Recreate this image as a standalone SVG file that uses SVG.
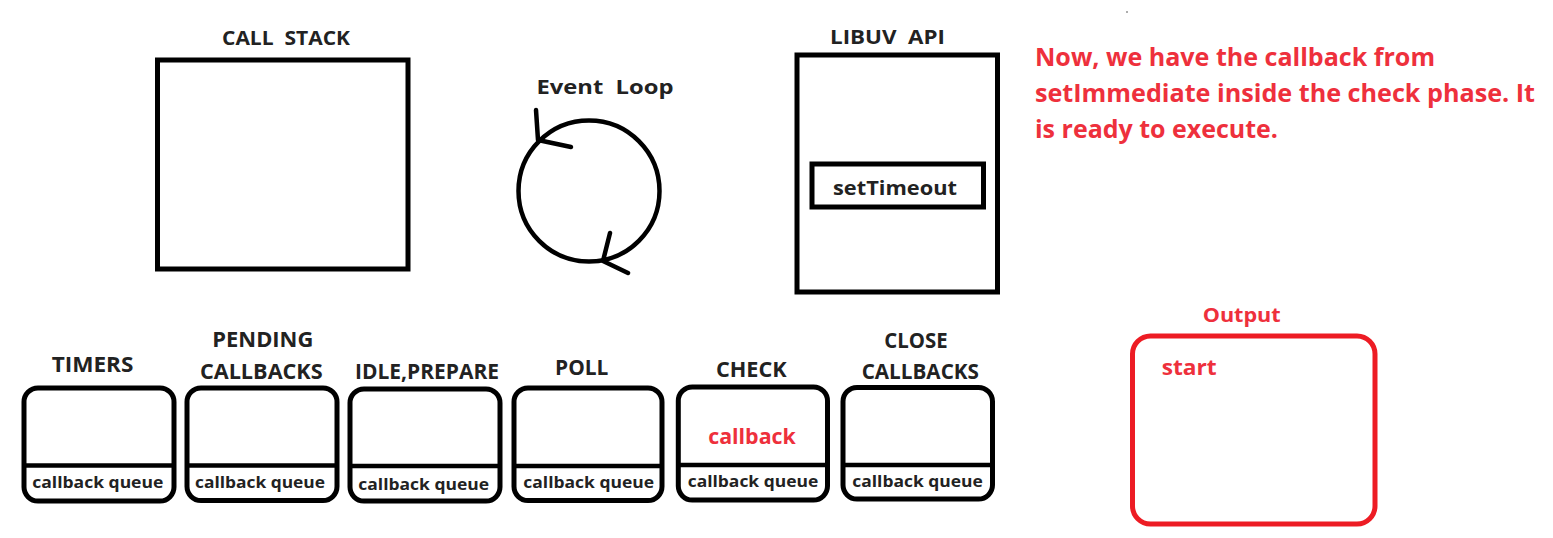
<svg xmlns="http://www.w3.org/2000/svg" width="1553" height="538" viewBox="0 0 1553 538">
<style>
.bg{fill:#ffffff}
.box{fill:none;stroke:#000;stroke-width:5}
.phase{fill:#fff;stroke:#000;stroke-width:5}
.div{stroke:#000;stroke-width:4.5}
.red{fill:none;stroke:#ED1C24;stroke-width:5}
.loop{fill:none;stroke:#000;stroke-width:4.5;stroke-linecap:round;stroke-linejoin:round}
text{font-family:"Open Sans","Noto Sans","Liberation Sans",sans-serif;font-weight:700;text-anchor:middle}
.lbl{fill:#222;font-size:19.5px}
.pre{white-space:pre}
.plbl{fill:#222;font-size:22px}
.cq{fill:#222;font-size:16.5px}
.rt{fill:#EE303C}
.para{fill:#EE303C;font-size:25px;text-anchor:start}
</style>
<rect class="bg" x="0" y="0" width="1553" height="538"/>
<circle cx="1127" cy="12" r="0.8" fill="#444"/>

<g id="call-stack">
<rect class="box" x="157.5" y="60" width="250.5" height="209"/>
<text class="lbl pre" xml:space="preserve" x="286" y="45" textLength="128" lengthAdjust="spacingAndGlyphs">CALL  STACK</text>
</g>

<g id="event-loop">
<text class="lbl pre" xml:space="preserve" x="605" y="94.3" textLength="137" lengthAdjust="spacingAndGlyphs">Event  Loop</text>
<circle class="loop" cx="589" cy="191" r="70.5"/>
</g>

<g id="libuv-api">
<rect class="box" x="797" y="55" width="200.5" height="237"/>
<text class="lbl pre" xml:space="preserve" x="887.5" y="44.3" textLength="115" lengthAdjust="spacingAndGlyphs">LIBUV  API</text>
</g>

<g id="set-timeout">
<rect class="box" x="812" y="164" width="171.5" height="43"/>
<text class="lbl" x="895" y="195" font-size="20" textLength="124" lengthAdjust="spacingAndGlyphs">setTimeout</text>
</g>

<g id="note">
<text class="para" x="1035" y="66" textLength="400" lengthAdjust="spacingAndGlyphs">Now, we have the callback from</text>
<text class="para" x="1035" y="101.7" textLength="500" lengthAdjust="spacingAndGlyphs">setImmediate inside the check phase. It</text>
<text class="para" x="1035" y="138.3" textLength="243" lengthAdjust="spacingAndGlyphs">is ready to execute.</text>
</g>

<g id="timers">
<rect class="phase" x="24" y="388" width="150" height="113" rx="14"/>
<line class="div" x1="24" y1="465.5" x2="174" y2="465.5"/>
<text class="plbl" x="92.5" y="371.7" textLength="81.7" lengthAdjust="spacingAndGlyphs">TIMERS</text>
<text class="cq" x="97.8" y="487.7" textLength="131" lengthAdjust="spacingAndGlyphs">callback queue</text>
</g>

<g id="pending-callbacks">
<rect class="phase" x="187" y="388" width="150" height="112.5" rx="14"/>
<line class="div" x1="187" y1="465.5" x2="337" y2="465.5"/>
<text class="plbl" x="262.8" y="346.7" textLength="101" lengthAdjust="spacingAndGlyphs">PENDING</text>
<text class="plbl" x="261.3" y="379.3" textLength="122.7" lengthAdjust="spacingAndGlyphs">CALLBACKS</text>
<text class="cq" x="260" y="488.3" textLength="130" lengthAdjust="spacingAndGlyphs">callback queue</text>
</g>

<g id="idle-prepare">
<rect class="phase" x="350" y="389" width="150" height="112" rx="14"/>
<line class="div" x1="350" y1="466" x2="500" y2="466"/>
<text class="plbl" x="427" y="379.3" textLength="144" lengthAdjust="spacingAndGlyphs">IDLE,PREPARE</text>
<text class="cq" x="423.7" y="490" textLength="130.7" lengthAdjust="spacingAndGlyphs">callback queue</text>
</g>

<g id="poll">
<rect class="phase" x="514" y="388" width="148" height="112.5" rx="14"/>
<line class="div" x1="514" y1="466" x2="662" y2="466"/>
<text class="plbl" x="581.7" y="375" textLength="53.3" lengthAdjust="spacingAndGlyphs">POLL</text>
<text class="cq" x="588.7" y="488.3" textLength="130.7" lengthAdjust="spacingAndGlyphs">callback queue</text>
</g>

<g id="check">
<rect class="phase" x="678.3" y="387" width="149.2" height="113" rx="14"/>
<line class="div" x1="678.3" y1="465" x2="827.5" y2="465"/>
<text class="plbl" x="751.3" y="377.3" textLength="70.7" lengthAdjust="spacingAndGlyphs">CHECK</text>
<text class="rt" x="752" y="444.3" font-size="21" textLength="87.7" lengthAdjust="spacingAndGlyphs">callback</text>
<text class="cq" x="753" y="486.7" textLength="130.6" lengthAdjust="spacingAndGlyphs">callback queue</text>
</g>

<g id="close-callbacks">
<rect class="phase" x="843" y="387.5" width="149.5" height="111.5" rx="14"/>
<line class="div" x1="843" y1="465" x2="992.5" y2="465"/>
<text class="plbl" x="916" y="347.7" textLength="63.3" lengthAdjust="spacingAndGlyphs">CLOSE</text>
<text class="plbl" x="920.3" y="379.3" textLength="117.3" lengthAdjust="spacingAndGlyphs">CALLBACKS</text>
<text class="cq" x="917.5" y="486.7" textLength="130.4" lengthAdjust="spacingAndGlyphs">callback queue</text>
</g>

<g id="output">
<rect class="red" x="1132.5" y="336" width="242.5" height="188" rx="18"/>
<text class="rt" x="1241.7" y="321.7" font-size="20" textLength="78" lengthAdjust="spacingAndGlyphs">Output</text>
<text class="rt" x="1161.7" y="375" font-size="22" style="text-anchor:start" textLength="55" lengthAdjust="spacingAndGlyphs">start</text>
</g>

<g id="connectors">
<polyline class="loop" points="536,110 538,140 571,147"/>
<polyline class="loop" points="610,233 603,261 628,273"/>
</g>
</svg>
